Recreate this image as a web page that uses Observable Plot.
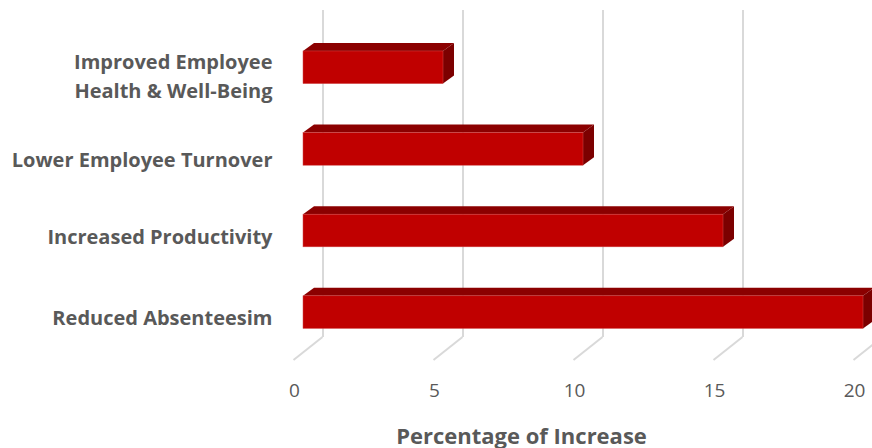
<!DOCTYPE html>
<html><head><meta charset="utf-8">
<script src="https://cdn.jsdelivr.net/npm/d3@7"></script>
<script src="https://cdn.jsdelivr.net/npm/@observablehq/plot@0.6"></script>
<style>html,body{margin:0;padding:0;background:#fff}svg{display:block}</style>
</head><body><div id="chart"></div>
<script>
const categories = ["Improved Employee\nHealth & Well-Being","Lower Employee Turnover","Increased Productivity","Reduced Absenteesim"];
const values = [5,10,15,20];
const tickValues = [0,5,10,15,20];
const labelOffsets = [6,8,4,3];
const axisTitle = "Percentage of Increase";
const data = categories.map((c,i)=>({c,v:values[i],dy:labelOffsets[i]}));
const depth = {x:11,y:-8};
const wall = {dx:19.5,floorDx:-9.5,floorY:360};
const font = "'Open Sans', sans-serif";

function polygons(index, scales, vals, dims, ctx){
  const g = d3.select(ctx.document.createElementNS("http://www.w3.org/2000/svg","g"));
  const bw = scales.y.bandwidth ? scales.y.bandwidth() : 32.64;
  for(const d of data){
    const x0=scales.x(0),x1=scales.x(d.v),y0=scales.y(d.c),y1=y0+bw;
    g.append("polygon").attr("fill","#8b0000")
      .attr("points",[[x0,y0],[x0+depth.x,y0+depth.y],[x1+depth.x,y0+depth.y],[x1,y0]].join(" "));
    g.append("polygon").attr("fill","#7c0000")
      .attr("points",[[x1,y0],[x1+depth.x,y0+depth.y],[x1+depth.x,y1+depth.y],[x1,y1]].join(" "));
  }
  return g.node();
}
function floor(index, scales, vals, dims, ctx){
  const g = d3.select(ctx.document.createElementNS("http://www.w3.org/2000/svg","g"));
  for(const t of tickValues){
    const x=scales.x(t);
    g.append("line").attr("x1",x+wall.dx).attr("x2",x+wall.floorDx)
      .attr("y1",dims.height-dims.marginBottom).attr("y2",wall.floorY)
      .attr("stroke","#d9d9d9").attr("stroke-width",2);
  }
  return g.node();
}
const plot = Plot.plot({
  width:872,height:448,
  marginLeft:303,marginRight:9,marginTop:10,marginBottom:111,
  style:{fontFamily:font,background:"#fff"},
  x:{domain:[0,20]},
  y:{domain:categories,range:[2,377.4],padding:0.6,round:false,axis:null},
  marks:[
    Plot.ruleX(tickValues,{dx:wall.dx,stroke:"#d9d9d9",strokeWidth:2}),
    floor,
    polygons,
    Plot.barX(data,{x:"v",y:"c",fill:"#c00000",stroke:"#d24a4a",strokeWidth:0.5}),
    Plot.axisX({ticks:tickValues,tickSize:0,tickPadding:46,dx:-9,label:null,fontSize:19,color:"#595959",tickFormat:d=>d}),
    ...data.map(d=>Plot.text([d],{x:0,y:"c",text:"c",textAnchor:"end",dx:-31,dy:d.dy,fontSize:20,fontWeight:700,fill:"#595959",lineHeight:1.45})),
    Plot.text([axisTitle],{frameAnchor:"bottom",dx:-62,dy:106,fontSize:22,fontWeight:700,fill:"#595959"})
  ]
});
document.getElementById("chart").append(plot);
</script></body></html>
